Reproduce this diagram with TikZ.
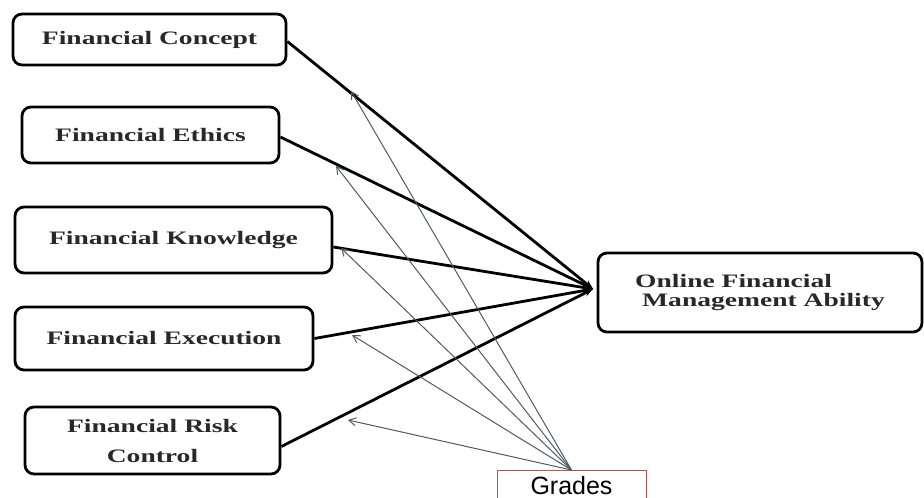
\documentclass[tikz,border=0pt]{standalone}
\usepackage{fontspec}
\usetikzlibrary{arrows.meta}
\newfontfamily\boxfont[FakeStretch=1.45]{Liberation Serif}
\newfontfamily\gradefont{Liberation Sans}
\definecolor{linkgray}{RGB}{80,90,100}
\definecolor{gradered}{RGB}{192,80,77}
\definecolor{boxtext}{RGB}{40,40,40}

\begin{document}
\begin{tikzpicture}[x=1pt, y=-1pt,
		box/.style={draw, line width=2.8pt, rounded corners=9pt, inner sep=0pt, text=boxtext, align=center, font=\boxfont\bfseries\fontsize{19}{30}\selectfont},
		gradebox/.style={draw=gradered, line width=0.9pt, minimum width=149pt, inner ysep=7pt, text height=17pt, text depth=5pt, font=\gradefont\fontsize{25}{25}\selectfont},
		link/.style={line width=2.8pt, -{Stealth[length=9pt, width=7pt]}},
		grade/.style={draw=linkgray, line width=1pt, -{Straight Barb[length=7pt, width=8pt]}}]
			\path[use as bounding box, clip] (0,0) rectangle (924,498);
			\node[box, minimum width=273pt, minimum height=51pt] (cpt) at (149.5,39.5) {Financial Concept};
			\node[box, minimum width=257pt, minimum height=56pt] (eth) at (150.5,135) {Financial Ethics};
			\node[box, minimum width=317pt, minimum height=66pt] (knw) at (173.5,240) {Financial Knowledge};
			\node[box, minimum width=298pt, minimum height=63pt] (exe) at (164,338.5) {Financial Execution};
			\node[box, minimum width=255pt, minimum height=67pt] (rsk) at (152.5,440.5) {Financial Risk\\Control};
			\node[box, minimum width=324pt, minimum height=79pt, align=left, font=\boxfont\bfseries\fontsize{19}{19}\selectfont] (ofm) at (760,292.5) {Online Financial\\\hspace*{7pt}Management Ability};
			\node[gradebox, anchor=north] (grd) at (571.5,470) {Grades};
			\coordinate (hub) at (593,289);
			\coordinate (g1) at (351,91);
			\coordinate (g2) at (336,166);
			\coordinate (g3) at (341,248);
			\coordinate (g4) at (352,335);
			\coordinate (g5) at (348,420);
			\draw[link] ([yshift=-2pt]cpt.east) -- (hub);
			\draw[link] ([yshift=-2pt]eth.east) -- (hub);
			\draw[link] ([yshift=-7pt]knw.east) -- (hub);
			\draw[link] (exe.east) -- (hub);
			\draw[link] ([yshift=-6pt]rsk.east) -- (hub);
			\draw[grade] (grd.north) -- (g1);
			\draw[grade] (grd.north) -- (g2);
			\draw[grade] (grd.north) -- (g3);
			\draw[grade] (grd.north) -- (g4);
			\draw[grade] (grd.north) -- (g5);
		\end{tikzpicture}
\end{document}
